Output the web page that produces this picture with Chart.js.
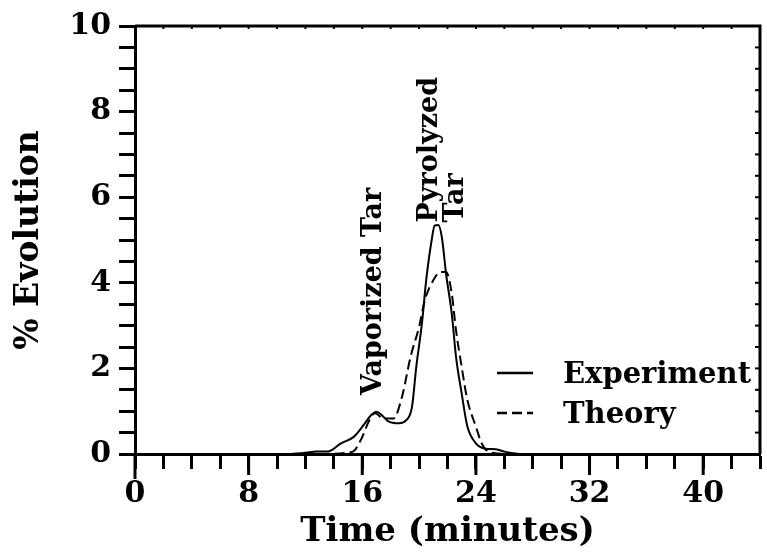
<!DOCTYPE html>
<html lang="en">
<head>
  <meta charset="UTF-8">
  <title>Tar Evolution</title>
  <script src="https://cdn.jsdelivr.net/npm/chart.js"></script>
  <style>
    body { margin: 0; background: #fff; }
    canvas { display: block; }
  </style>
</head>
<body>
  <canvas id="graficoTar" width="767" height="556"></canvas>

  <script>
    // experiment (solid line)
    const expTime  = [11, 12, 12.8, 13.6, 14.5, 15.4, 16.1, 16.6, 17.0, 17.4, 17.8, 18.6, 19.1, 19.5, 19.8, 20.2, 20.5, 20.9, 21.1, 21.35, 21.6, 21.9, 22.3, 22.6, 23.0, 23.4, 24.0, 24.6, 25.4, 26.1, 27.3, 28];
    const expValue = [0, 0.03, 0.06, 0.06, 0.25, 0.40, 0.68, 0.90, 0.99, 0.90, 0.77, 0.72, 0.79, 1.10, 2.03, 3.05, 4.06, 5.03, 5.34, 5.35, 5.07, 4.21, 3.28, 2.27, 1.41, 0.64, 0.25, 0.13, 0.11, 0.05, 0, 0];

    // theory (dashed line)
    const theoryTime  = [13, 15.3, 15.9, 16.5, 16.9, 17.5, 18.2, 18.8, 19.4, 20.0, 20.4, 21.0, 21.5, 21.9, 22.3, 22.6, 23.0, 23.4, 24.0, 24.4, 24.9, 26];
    const theoryValue = [0, 0.05, 0.33, 0.79, 0.95, 0.83, 0.83, 1.34, 2.27, 2.97, 3.59, 4.06, 4.25, 4.25, 3.75, 2.89, 2.03, 1.26, 0.64, 0.25, 0.05, 0];

    const xLabels = [0, 8, 16, 24, 32, 40];
    const yLabels = [0, 2, 4, 6, 8, 10];

    const serif = "'DejaVu Serif', 'Liberation Serif', serif";
    const ink = "#000";

    function toPoints(xs, ys) {
      return xs.map((x, i) => ({ x: x, y: ys[i] }));
    }

    // peak labels, in data units
    const notes = [
      { text: "Vaporized Tar", x: 16.85, y: 3.8, align: "center" },
      { text: "Pyrolyzed", x: 20.75, y: 5.41, align: "left" },
      { text: "Tar", x: 22.6, y: 5.41, align: "left" }
    ];

    const extras = {
      id: "extras",
      afterDraw(chart) {
        const ctx = chart.ctx;
        const a = chart.chartArea;
        const xs = chart.scales.x;
        const ys = chart.scales.y;
        ctx.save();
        ctx.strokeStyle = ink;
        ctx.fillStyle = ink;

        // frame: top and right edges
        ctx.lineWidth = 3;
        ctx.beginPath();
        ctx.moveTo(a.left, a.top);
        ctx.lineTo(a.right, a.top);
        ctx.lineTo(a.right, a.bottom);
        ctx.stroke();

        // small inward ticks on the frame
        ctx.lineWidth = 2;
        xs.ticks.forEach(t => {
          const px = xs.getPixelForValue(t.value);
          ctx.beginPath();
          ctx.moveTo(px, a.top);
          ctx.lineTo(px, a.top + 3);
          ctx.stroke();
        });
        ys.ticks.forEach(t => {
          const py = ys.getPixelForValue(t.value);
          ctx.beginPath();
          ctx.moveTo(a.right, py);
          ctx.lineTo(a.right - 5, py);
          ctx.stroke();
        });

        // longer major ticks on the time axis
        ctx.lineWidth = 3;
        xs.ticks.forEach(t => {
          if (!xLabels.includes(t.value)) return;
          const px = xs.getPixelForValue(t.value);
          ctx.beginPath();
          ctx.moveTo(px, a.bottom);
          ctx.lineTo(px, a.bottom + (t.value === 0 ? 25 : 21));
          ctx.stroke();
        });

        // legend
        ctx.font = "bold 29px " + serif;
        ctx.textBaseline = "middle";
        ctx.textAlign = "left";
        chart.data.datasets.forEach((ds, i) => {
          const ly = 373 + i * 40;
          ctx.lineWidth = 2.5;
          ctx.setLineDash(ds.borderDash || []);
          ctx.beginPath();
          ctx.moveTo(497, ly);
          ctx.lineTo(533, ly);
          ctx.stroke();
          ctx.setLineDash([]);
          ctx.fillText(ds.label, 563, ly + 2);
        });

        // rotated peak labels
        ctx.font = "bold 27px " + serif;
        notes.forEach(n => {
          ctx.save();
          ctx.translate(xs.getPixelForValue(n.x), ys.getPixelForValue(n.y));
          ctx.rotate(-Math.PI / 2);
          ctx.textAlign = n.align;
          ctx.textBaseline = "middle";
          ctx.fillText(n.text, 0, 0);
          ctx.restore();
        });

        ctx.restore();
      }
    };

    const ctx = document.getElementById("graficoTar").getContext("2d");
    const grafico = new Chart(ctx, {
      type: "line",
      data: {
        datasets: [
          {
            label: "Experiment",
            data: toPoints(expTime, expValue),
            borderColor: ink,
            borderWidth: 2,
            pointRadius: 0,
            fill: false,
            cubicInterpolationMode: "monotone"
          },
          {
            label: "Theory",
            data: toPoints(theoryTime, theoryValue),
            borderColor: ink,
            borderWidth: 2,
            borderDash: [10, 5],
            pointRadius: 0,
            fill: false,
            cubicInterpolationMode: "monotone"
          }
        ]
      },
      options: {
        responsive: false,
        animation: false,
        devicePixelRatio: 1,
        layout: { padding: { top: 25, right: 1, left: 0, bottom: 0 } },
        plugins: {
          legend: { display: false },
          tooltip: { enabled: false }
        },
        scales: {
          x: {
            type: "linear",
            min: 0,
            max: 44,
            border: { color: ink, width: 3 },
            grid: { drawOnChartArea: false, color: ink, tickColor: ink, tickLength: 15, tickWidth: 3 },
            ticks: {
              stepSize: 2,
              autoSkip: false,
              maxRotation: 0,
              padding: 7,
              color: ink,
              font: { family: serif, size: 30, weight: "bold" },
              callback: v => xLabels.includes(v) ? v : ""
            },
            title: {
              display: true,
              text: "Time (minutes)",
              color: ink,
              font: { family: serif, size: 34, weight: "bold" },
              padding: { top: 0, bottom: 3 }
            },
            afterFit: s => { s.height = 102; }
          },
          y: {
            min: 0,
            max: 10,
            border: { color: ink, width: 3 },
            grid: { drawOnChartArea: false, color: ink, tickColor: ink, tickLength: 16, tickWidth: 3 },
            ticks: {
              stepSize: 0.5,
              autoSkip: false,
              padding: 8,
              color: ink,
              font: { family: serif, size: 30, weight: "bold" },
              callback: v => yLabels.includes(v) ? v : ""
            },
            title: {
              display: true,
              text: "% Evolution",
              color: ink,
              font: { family: serif, size: 33, weight: "bold" },
              padding: { top: 10, bottom: 0 }
            },
            afterFit: s => { s.width = 135; }
          }
        }
      },
      plugins: [extras]
    });
  </script>
</body>
</html>
